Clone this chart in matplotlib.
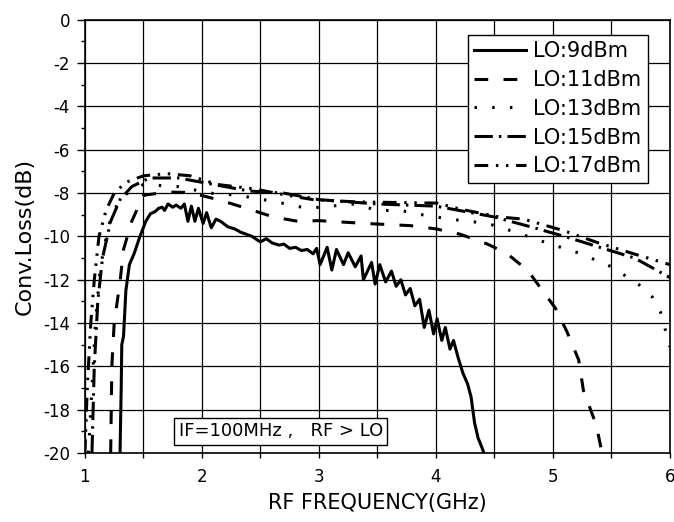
import matplotlib
matplotlib.use('Agg')
import matplotlib.pyplot as plt
from matplotlib.ticker import MultipleLocator

plt.rcParams['font.family'] = ['DejaVu Sans']
plt.rcParams['axes.unicode_minus'] = False

# ── Data ──
lo9_f = [1.30, 1.31, 1.315, 1.33, 1.35, 1.38, 1.42, 1.47, 1.52, 1.56, 1.60, 1.63, 1.66, 1.68,
         1.71, 1.75, 1.78, 1.82, 1.85, 1.88, 1.91, 1.94, 1.97, 2.01, 2.04, 2.08, 2.12, 2.16,
         2.22, 2.28, 2.33, 2.38, 2.43, 2.47, 2.50, 2.55, 2.60, 2.66, 2.70, 2.75, 2.80, 2.85,
         2.90, 2.95, 2.98, 3.01, 3.07, 3.11, 3.15, 3.21, 3.25, 3.31, 3.36, 3.38, 3.45, 3.48,
         3.52, 3.57, 3.62, 3.66, 3.70, 3.74, 3.78, 3.82, 3.86, 3.90, 3.94, 3.98, 4.01, 4.05,
         4.08, 4.12, 4.15, 4.19, 4.23, 4.27, 4.30, 4.33, 4.36, 4.39, 4.41]
lo9_db = [-20, -17, -15, -14.6, -12.5, -11.3, -10.8, -10.0, -9.3, -8.95, -8.85, -8.7, -8.65, -8.8,
          -8.5, -8.65, -8.55, -8.7, -8.5, -9.3, -8.6, -9.3, -8.7, -9.4, -8.9, -9.6, -9.2, -9.3,
          -9.55, -9.65, -9.8, -9.9, -10.0, -10.15, -10.25, -10.1, -10.3, -10.4, -10.35, -10.55, -10.5, -10.65,
          -10.6, -10.8, -10.55, -11.3, -10.5, -11.55, -10.6, -11.3, -10.75, -11.4, -10.9, -12.0, -11.2, -12.2,
          -11.3, -12.1, -11.6, -12.3, -12.0, -12.7, -12.4, -13.2, -12.9, -14.2, -13.4, -14.5, -13.8, -14.8,
          -14.2, -15.2, -14.8, -15.6, -16.3, -16.8, -17.4, -18.6, -19.3, -19.7, -20]

lo11_f = [1.22, 1.23, 1.25, 1.30, 1.33, 1.40, 1.50, 1.70, 1.90, 2.17, 2.38, 2.61, 2.82, 3.00,
          3.40, 3.78, 4.00, 4.21, 4.44, 4.61, 4.79, 4.91, 5.02, 5.12, 5.22, 5.26, 5.37, 5.42]
lo11_db = [-20, -16, -14, -12.1, -10.6, -9.3, -8.1, -7.95, -7.97, -8.35, -8.7, -9.1, -9.3, -9.27,
           -9.4, -9.5, -9.65, -9.9, -10.35, -10.8, -11.6, -12.5, -13.3, -14.4, -15.7, -17.1, -18.7, -20]

lo13_f = [1.03, 1.06, 1.09, 1.13, 1.20, 1.30, 1.50, 1.80, 2.07, 2.31, 2.63, 2.90, 3.10, 3.31,
          3.50, 3.70, 3.85, 4.12, 4.44, 4.68, 4.95, 5.24, 5.50, 5.73, 5.85, 5.92, 5.96, 6.00]
lo13_db = [-20, -17, -14, -11.5, -9.5, -8.2, -7.6, -7.7, -8.0, -8.1, -8.4, -8.7, -8.6, -8.5,
           -8.8, -8.8, -8.97, -9.2, -9.4, -9.8, -10.3, -10.8, -11.4, -12.2, -12.8, -13.5, -14.3, -15.1]

lo15_f = [1.06, 1.08, 1.11, 1.15, 1.22, 1.30, 1.40, 1.55, 1.80, 2.10, 2.40, 2.70, 3.00, 3.50,
          4.00, 4.50, 4.84, 5.10, 5.40, 5.70, 6.00]
lo15_db = [-20, -16, -13, -11, -9.3, -8.3, -7.7, -7.3, -7.3, -7.6, -7.9, -8.0, -8.3, -8.5,
           -8.6, -9.1, -9.6, -10.0, -10.5, -11.0, -11.9]

lo17_f = [1.00, 1.02, 1.05, 1.08, 1.12, 1.18, 1.25, 1.35, 1.50, 1.70, 1.90, 2.13, 2.44, 2.73,
          2.95, 3.30, 3.63, 4.01, 4.21, 4.54, 4.75, 5.09, 5.39, 5.69, 6.00]
lo17_db = [-20, -17, -14, -12, -10, -8.8, -8.0, -7.5, -7.2, -7.1, -7.2, -7.6, -7.8, -8.1,
           -8.3, -8.4, -8.43, -8.46, -8.74, -9.1, -9.2, -9.73, -10.3, -10.8, -11.3]

series = [
    (lo9_f, lo9_db, 'LO:9dBm', '-'),
    (lo11_f, lo11_db, 'LO:11dBm', (0, (4.5, 5))),
    (lo13_f, lo13_db, 'LO:13dBm', (0, (0.8, 5))),
    (lo15_f, lo15_db, 'LO:15dBm', (0, (6, 2, 0.8, 2))),
    (lo17_f, lo17_db, 'LO:17dBm', (0, (4.5, 2.5, 0.8, 2.5, 0.8, 2.5))),
]

fig = plt.figure(figsize=(6.74, 5.22), dpi=100)
ax = fig.add_axes([0.126, 0.132, 0.868, 0.830])

for f, db, lab, ls in series:
    ax.plot(f, db, color='black', lw=2.2, linestyle=ls, label=lab)

ax.set_xlim(1, 6)
ax.set_ylim(-20, 0)
ax.xaxis.set_major_locator(MultipleLocator(1))
ax.xaxis.set_minor_locator(MultipleLocator(0.5))
ax.yaxis.set_major_locator(MultipleLocator(2))
ax.yaxis.set_minor_locator(MultipleLocator(1))
ax.grid(True, which='major', color='black', lw=0.9)
ax.grid(True, which='minor', axis='x', color='black', lw=0.9)
ax.tick_params(axis='y', which='major', direction='out', length=5.8, width=1, labelsize=12, pad=5)
ax.tick_params(axis='y', which='minor', direction='out', length=3, width=1)
ax.tick_params(axis='x', which='both', direction='out', length=3.6, width=1, labelsize=12, pad=7)
for s in ax.spines.values():
    s.set_linewidth(1.2)

ax.set_xlabel('RF FREQUENCY(GHz)', fontsize=15, labelpad=5)
ax.set_ylabel('Conv.Loss(dB)', fontsize=16, labelpad=6)

leg = ax.legend(loc='upper right', bbox_to_anchor=(0.962, 0.965), borderaxespad=0,
                fontsize=15, handlelength=2.5, handletextpad=0.33, labelspacing=0.42,
                fancybox=False, framealpha=1, edgecolor='black', borderpad=0.3)
leg.get_frame().set_linewidth(1.0)

ax.text(2.674, -19.0, 'IF=100MHz ,   RF > LO', fontsize=13, ha='center', va='center',
        bbox=dict(boxstyle='square,pad=0.25', facecolor='white', edgecolor='black', lw=1.0))

fig.savefig('out.png', dpi=100, facecolor='white')
